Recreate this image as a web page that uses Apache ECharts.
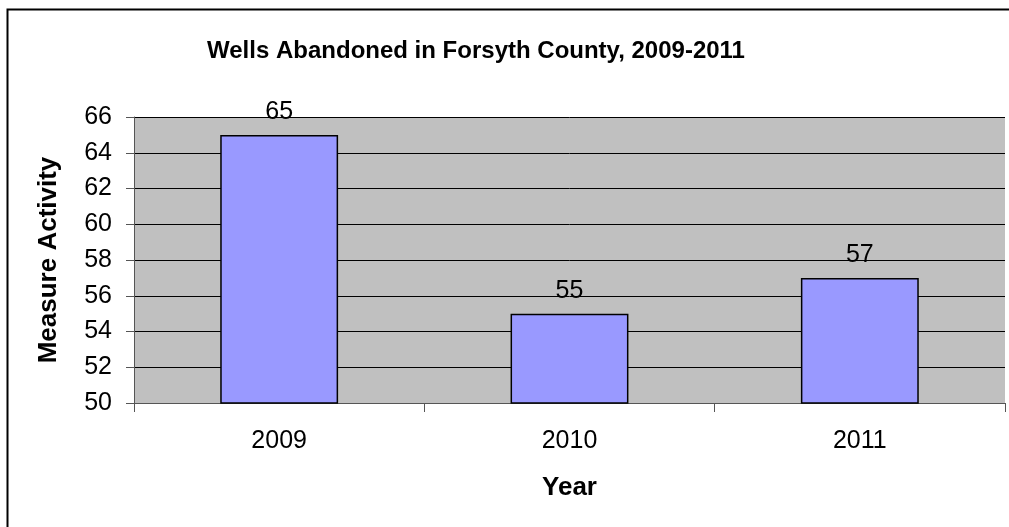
<!DOCTYPE html>
<html>
<head>
<meta charset="utf-8">
<script src="https://cdn.jsdelivr.net/npm/echarts@6/dist/echarts.min.js"></script>
<style>
  html, body { margin: 0; padding: 0; background: #fff; }
  #chart { width: 1009px; height: 527px; }
</style>
</head>
<body>
<div id="chart"></div>
<script>
var years = ['2009', '2010', '2011'];
var wells = [65, 55, 57];

var chart = echarts.init(document.getElementById('chart'));
var font = 'Liberation Sans, Arial, sans-serif';

var option = {
    animation: false,
    title: {
        text: 'Wells Abandoned in Forsyth County, 2009-2011',
        left: 471,
        top: 34,
        textAlign: 'center',
        textStyle: { fontFamily: font, fontSize: 24, fontWeight: 'bold', color: '#000' }
    },
    graphic: [{
        type: 'rect',
        shape: { x: 7.5, y: 9.5, width: 1010, height: 530 },
        style: { fill: 'none', stroke: '#000', lineWidth: 2 },
        silent: true
    }],
    grid: {
        left: 134, right: 4, top: 117, bottom: 124,
        show: true,
        backgroundColor: '#c0c0c0',
        borderWidth: 0
    },
    xAxis: {
        type: 'category',
        data: years,
        name: 'Year',
        nameLocation: 'middle',
        nameGap: 72,
        nameTextStyle: { fontFamily: font, fontSize: 26, fontWeight: 'bold', color: '#000' },
        axisLine: { lineStyle: { color: '#555', width: 1 } },
        axisTick: { show: true, length: 9, lineStyle: { color: '#555' } },
        axisLabel: { fontFamily: font, fontSize: 25, color: '#000', margin: 26 }
    },
    yAxis: {
        type: 'value',
        min: 50,
        max: 66,
        interval: 2,
        name: 'Measure Activity',
        nameLocation: 'middle',
        nameGap: 72,
        nameTextStyle: { fontFamily: font, fontSize: 26, fontWeight: 'bold', color: '#000' },
        axisLine: { show: true, lineStyle: { color: '#555', width: 1 } },
        axisTick: { show: true, length: 8, lineStyle: { color: '#555' } },
        axisLabel: { fontFamily: font, fontSize: 25, color: '#000', margin: 22 },
        splitLine: { show: true, lineStyle: { color: '#000', width: 1 } }
    },
    series: [{
        type: 'bar',
        data: wells,
        barWidth: '40.6%',
        itemStyle: { color: '#9999ff', borderColor: '#000', borderWidth: 1.5 },
        label: {
            show: true,
            position: 'top',
            distance: 10,
            fontFamily: font,
            fontSize: 25,
            color: '#000'
        }
    }]
};

chart.setOption(option);
</script>
</body>
</html>
